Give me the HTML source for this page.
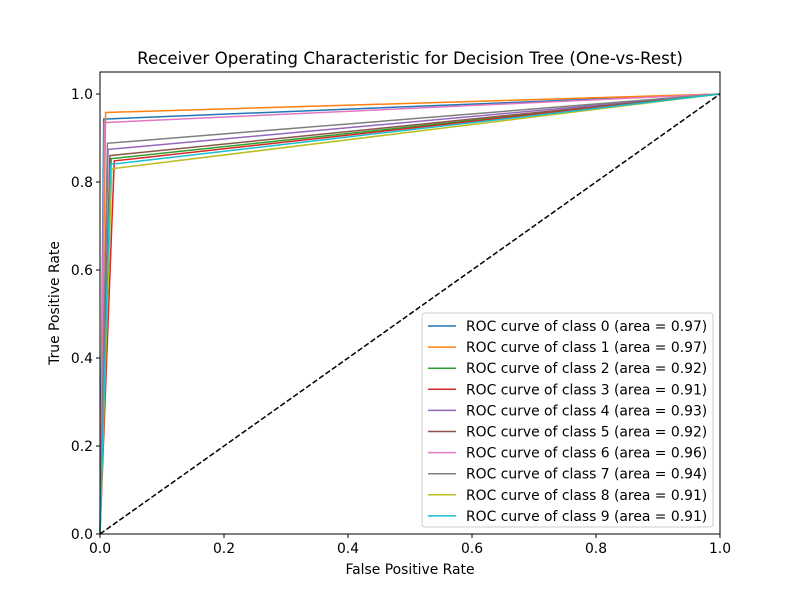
<!DOCTYPE html>
<html><head><meta charset="utf-8"><style>body{margin:0;background:#fff}svg{display:block;font-family:"DejaVu Sans","Liberation Sans",sans-serif}</style></head>
<body>
<svg id="chart" width="800" height="600" xmlns="http://www.w3.org/2000/svg">
<rect width="800" height="600" fill="#fff"/>
<text x="410" y="64" text-anchor="middle" font-size="16.7">Receiver Operating Characteristic for Decision Tree (One-vs-Rest)</text>
<g id="plot"></g>
<text x="410" y="574" text-anchor="middle" font-size="13.9">False Positive Rate</text>
<text transform="translate(59,303) rotate(-90)" text-anchor="middle" font-size="13.9">True Positive Rate</text>
</svg>
<script>
const classes = ["0","1","2","3","4","5","6","7","8","9"];
const kneeFpr = [0.006,0.009,0.018,0.023,0.013,0.016,0.007,0.012,0.019,0.017];
const kneeTpr = [0.943,0.958,0.853,0.848,0.874,0.860,0.935,0.888,0.830,0.840];
const areas = ["0.97","0.97","0.92","0.91","0.93","0.92","0.96","0.94","0.91","0.91"];
const colors = ["#1f77b4","#ff7f0e","#2ca02c","#d62728","#9467bd","#8c564b","#e377c2","#7f7f7f","#bcbd22","#17becf"];
const xTicks = [0,0.2,0.4,0.6,0.8,1.0];
const yTicks = [0,0.2,0.4,0.6,0.8,1.0];
const NS="http://www.w3.org/2000/svg";
const L=100,R=720,T=72,B=534;
const sx=v=>L+v*(R-L);
const sy=v=>B-v/1.05*(B-T);
const g=document.getElementById('plot');
function mk(tag,attrs){const e=document.createElementNS(NS,tag);for(const k in attrs)e.setAttribute(k,attrs[k]);return e;}
classes.forEach((c,i)=>{
 const p=mk('polyline',{points:`${sx(0)},${sy(0)} ${sx(kneeFpr[i])},${sy(kneeTpr[i])} ${sx(1)},${sy(1)}`,fill:'none',stroke:colors[i],'stroke-width':1.5});
 
 
 g.appendChild(p);
});
const d=mk('line',{x1:sx(0),y1:sy(0),x2:sx(1),y2:sy(1),stroke:'#000','stroke-width':1.5,'stroke-dasharray':'5.5,2.4'});


g.appendChild(d);
const fr=mk('rect',{x:L,y:T,width:R-L,height:B-T,fill:'none',stroke:'#000','stroke-width':1});


g.appendChild(fr);
xTicks.forEach(v=>{
 const t=mk('line',{x1:sx(v),y1:B,x2:sx(v),y2:B+4,stroke:'#000'});
 
 
 g.appendChild(t);
 const l=mk('text',{x:sx(v),y:B+19,'text-anchor':'middle','font-size':13.9});
 
 
 l.textContent=v.toFixed(1);g.appendChild(l);
});
yTicks.forEach(v=>{
 const t=mk('line',{x1:L-4,y1:sy(v),x2:L,y2:sy(v),stroke:'#000'});
 
 
 g.appendChild(t);
 const l=mk('text',{x:L-7,y:sy(v)+5,'text-anchor':'end','font-size':13.9});
 
 
 l.textContent=v.toFixed(1);g.appendChild(l);
});
const lg=mk('g',{});


g.appendChild(lg);
lg.appendChild(mk('rect',{x:422,y:313,width:291,height:214,rx:3,fill:'#fff','fill-opacity':0.8,stroke:'#ccc'}));
classes.forEach((c,i)=>{
 const y=326+i*21.1;
 const e=mk('g',{});
 
 
 e.appendChild(mk('line',{x1:428,y1:y,x2:456,y2:y,stroke:colors[i],'stroke-width':1.5}));
 const t=mk('text',{x:466,y:y+5,'font-size':13.9});
 t.textContent=`ROC curve of class ${c} (area = ${areas[i]})`;
 e.appendChild(t);lg.appendChild(e);
});
</script>
</body></html>
